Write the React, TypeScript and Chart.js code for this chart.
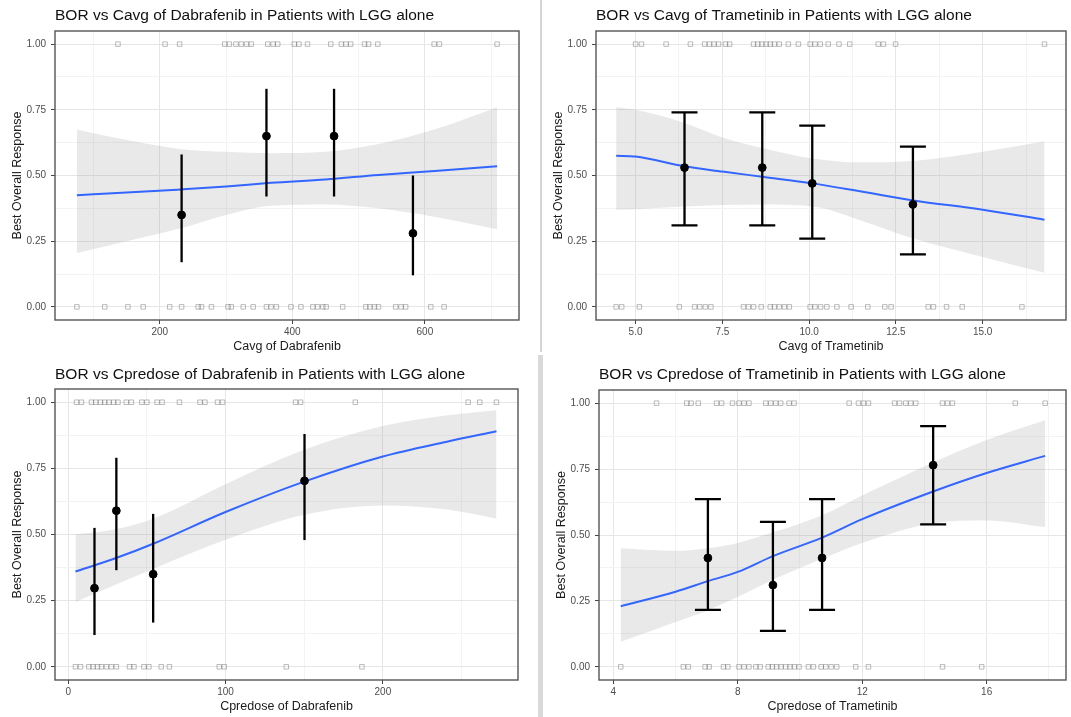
import React, { useEffect, useRef } from "react";
import { Chart, registerables } from "chart.js";

Chart.register(...registerables);

const FONT = "'Liberation Sans', Arial, Helvetica, sans-serif";

// ---------- Panel 1: BOR vs Cavg of Dabrafenib ----------
const cavgDabResponders = [137, 208, 230, 298, 305, 315, 323, 331, 338, 363, 371, 378, 403, 410, 423, 458, 474, 481, 488, 509, 515, 529, 614, 622, 709];
const cavgDabNonResponders = [75, 117, 152, 175, 215, 233, 258, 263, 278, 303, 308, 326, 341, 361, 368, 376, 398, 413, 431, 438, 446, 451, 476, 511, 517, 524, 530, 556, 564, 571, 609, 629];
const cavgDabBinX = [233, 361, 463, 582];
const cavgDabBinRate = [0.35, 0.65, 0.65, 0.28];
const cavgDabBinLow = [0.17, 0.42, 0.42, 0.12];
const cavgDabBinHigh = [0.58, 0.83, 0.83, 0.5];
const cavgDabFitX = [75, 150, 233, 300, 368, 450, 530, 620, 709];
const cavgDabFitY = [0.425, 0.435, 0.447, 0.458, 0.472, 0.485, 0.502, 0.518, 0.535];
const cavgDabFitLow = [0.205, 0.25, 0.3, 0.35, 0.385, 0.39, 0.375, 0.34, 0.295];
const cavgDabFitHigh = [0.675, 0.635, 0.6, 0.59, 0.585, 0.59, 0.62, 0.68, 0.76];
const cavgDabXTicks = [100, 200, 300, 400, 500, 600, 700];
const cavgDabXLabels = [200, 400, 600];

// ---------- Panel 2: BOR vs Cavg of Trametinib ----------
const cavgTraResponders = [5.0, 5.17, 5.88, 6.58, 6.99, 7.13, 7.26, 7.39, 7.59, 7.71, 8.4, 8.52, 8.64, 8.76, 8.88, 9.0, 9.14, 9.4, 9.69, 10.03, 10.17, 10.32, 10.55, 10.86, 11.17, 11.99, 12.14, 12.49, 16.78];
const cavgTraNonResponders = [4.44, 4.6, 5.11, 6.26, 6.7, 6.85, 7.01, 7.17, 8.11, 8.25, 8.4, 8.62, 8.88, 9.0, 9.14, 9.29, 9.43, 10.03, 10.17, 10.33, 10.51, 10.8, 11.21, 11.69, 12.18, 12.36, 13.43, 13.58, 13.96, 14.41, 16.13];
const cavgTraBinX = [6.41, 8.65, 10.09, 12.99];
const cavgTraBinRate = [0.53, 0.53, 0.47, 0.39];
const cavgTraBinLow = [0.31, 0.31, 0.26, 0.2];
const cavgTraBinHigh = [0.74, 0.74, 0.69, 0.61];
const cavgTraFitX = [4.44, 5.0, 6.41, 7.5, 8.65, 10.09, 11.47, 13.0, 15.0, 16.78];
const cavgTraFitY = [0.575, 0.572, 0.535, 0.515, 0.495, 0.47, 0.44, 0.405, 0.37, 0.332];
const cavgTraFitLow = [0.37, 0.372, 0.382, 0.388, 0.39, 0.383, 0.33, 0.26, 0.19, 0.13];
const cavgTraFitHigh = [0.76, 0.75, 0.7, 0.645, 0.605, 0.565, 0.55, 0.555, 0.59, 0.63];
const cavgTraXTicks = [5, 6.25, 7.5, 8.75, 10, 11.25, 12.5, 13.75, 15, 16.25];
const cavgTraXLabels = [5, 7.5, 10, 12.5, 15];

// ---------- Panel 3: BOR vs Cpredose of Dabrafenib ----------
const cpreDabResponders = [5.3, 8.4, 14.8, 17.5, 20.5, 23.2, 25.9, 28.9, 31.6, 36.9, 40.1, 46.8, 50.0, 56.5, 59.7, 70.7, 83.8, 86.9, 94.9, 98.1, 144.5, 147.7, 182.5, 254.2, 261.6, 272.2];
const cpreDabNonResponders = [4.6, 7.8, 13.1, 15.8, 18.6, 21.1, 24.3, 27.4, 30.6, 39.0, 41.8, 48.1, 51.3, 59.1, 64.3, 96.0, 99.2, 138.6, 186.7];
const cpreDabBinX = [16.7, 30.6, 54, 150.2];
const cpreDabBinRate = [0.297, 0.59, 0.35, 0.703];
const cpreDabBinLow = [0.12, 0.365, 0.167, 0.479];
const cpreDabBinHigh = [0.525, 0.79, 0.578, 0.88];
const cpreDabFitX = [4.6, 30, 54, 100, 150, 200, 240, 272.2];
const cpreDabFitY = [0.36, 0.41, 0.465, 0.585, 0.7, 0.795, 0.85, 0.89];
const cpreDabFitLow = [0.245, 0.31, 0.37, 0.48, 0.575, 0.61, 0.595, 0.56];
const cpreDabFitHigh = [0.5, 0.52, 0.56, 0.69, 0.82, 0.91, 0.95, 0.97];
const cpreDabXTicks = [0, 50, 100, 150, 200, 250];
const cpreDabXLabels = [0, 100, 200];

// ---------- Panel 4: BOR vs Cpredose of Trametinib ----------
const cpreTraResponders = [5.39, 6.36, 6.5, 6.73, 7.32, 7.48, 7.83, 8.04, 8.2, 8.36, 8.9, 9.06, 9.22, 9.38, 9.65, 9.81, 11.58, 11.88, 12.04, 12.2, 13.04, 13.2, 13.4, 13.56, 13.72, 14.58, 14.74, 14.9, 16.92, 17.88];
const cpreTraNonResponders = [4.24, 6.25, 6.41, 6.95, 7.08, 7.54, 7.68, 8.04, 8.2, 8.36, 8.58, 8.72, 8.98, 9.11, 9.25, 9.39, 9.54, 9.68, 9.82, 9.97, 10.27, 10.43, 10.68, 10.83, 11.0, 11.18, 11.79, 12.2, 14.58, 15.84];
const cpreTraBinX = [7.04, 9.13, 10.71, 14.28];
const cpreTraBinRate = [0.413, 0.31, 0.413, 0.765];
const cpreTraBinLow = [0.216, 0.136, 0.216, 0.54];
const cpreTraBinHigh = [0.636, 0.55, 0.636, 0.913];
const cpreTraFitX = [4.24, 6, 7.04, 8, 9.13, 10.71, 12, 14.28, 16, 17.88];
const cpreTraFitY = [0.23, 0.285, 0.325, 0.36, 0.42, 0.49, 0.56, 0.665, 0.735, 0.8];
const cpreTraFitLow = [0.095, 0.17, 0.215, 0.265, 0.33, 0.41, 0.47, 0.545, 0.555, 0.53];
const cpreTraFitHigh = [0.45, 0.44, 0.45, 0.47, 0.51, 0.575, 0.65, 0.775, 0.86, 0.935];
const cpreTraXTicks = [4, 6, 8, 10, 12, 14, 16, 18];
const cpreTraXLabels = [4, 8, 12, 16];

// ---------- Shared y axis ----------
const yTicks = [0, 0.125, 0.25, 0.375, 0.5, 0.625, 0.75, 0.875, 1];
const yLabels = [0, 0.25, 0.5, 0.75, 1];
const yTitle = "Best Overall Response";

type Spec = {
  title: string;
  xTitle: string;
  responders: number[];
  nonResponders: number[];
  binX: number[];
  binRate: number[];
  binLow: number[];
  binHigh: number[];
  fitX: number[];
  fitY: number[];
  fitLow: number[];
  fitHigh: number[];
  xMin: number;
  xMax: number;
  xTicks: number[];
  xLabels: number[];
  xDigits: number;
  capHalf: number;
  box: { left: number; top: number; width: number; height: number };
  padTop: number;
  padRight: number;
  xAxisH: number;
  yAxisW: number;
  titleY: number;
  xTitlePad: number;
  yTitlePad: number;
};

const specs: Spec[] = [
  {
    title: "BOR vs Cavg of Dabrafenib in Patients with LGG alone",
    xTitle: "Cavg of Dabrafenib",
    responders: cavgDabResponders,
    nonResponders: cavgDabNonResponders,
    binX: cavgDabBinX,
    binRate: cavgDabBinRate,
    binLow: cavgDabBinLow,
    binHigh: cavgDabBinHigh,
    fitX: cavgDabFitX,
    fitY: cavgDabFitY,
    fitLow: cavgDabFitLow,
    fitHigh: cavgDabFitHigh,
    xMin: 42,
    xMax: 742,
    xTicks: cavgDabXTicks,
    xLabels: cavgDabXLabels,
    xDigits: 0,
    capHalf: 0,
    box: { left: 0, top: 0, width: 537, height: 360 },
    padTop: 31,
    padRight: 18,
    xAxisH: 40,
    yAxisW: 55,
    titleY: 16,
    xTitlePad: 5.5,
    yTitlePad: 10.5,
  },
  {
    title: "BOR vs Cavg of Trametinib in Patients with LGG alone",
    xTitle: "Cavg of Trametinib",
    responders: cavgTraResponders,
    nonResponders: cavgTraNonResponders,
    binX: cavgTraBinX,
    binRate: cavgTraBinRate,
    binLow: cavgTraBinLow,
    binHigh: cavgTraBinHigh,
    fitX: cavgTraFitX,
    fitY: cavgTraFitY,
    fitLow: cavgTraFitLow,
    fitHigh: cavgTraFitHigh,
    xMin: 3.86,
    xMax: 17.4,
    xTicks: cavgTraXTicks,
    xLabels: cavgTraXLabels,
    xDigits: 1,
    capHalf: 13,
    box: { left: 541, top: 0, width: 530, height: 360 },
    padTop: 31,
    padRight: 5,
    xAxisH: 40,
    yAxisW: 55,
    titleY: 16,
    xTitlePad: 5.5,
    yTitlePad: 10.5,
  },
  {
    title: "BOR vs Cpredose of Dabrafenib in Patients with LGG alone",
    xTitle: "Cpredose of Dabrafenib",
    responders: cpreDabResponders,
    nonResponders: cpreDabNonResponders,
    binX: cpreDabBinX,
    binRate: cpreDabBinRate,
    binLow: cpreDabBinLow,
    binHigh: cpreDabBinHigh,
    fitX: cpreDabFitX,
    fitY: cpreDabFitY,
    fitLow: cpreDabFitLow,
    fitHigh: cpreDabFitHigh,
    xMin: -8.4,
    xMax: 285.9,
    xTicks: cpreDabXTicks,
    xLabels: cpreDabXLabels,
    xDigits: 0,
    capHalf: 0,
    box: { left: 0, top: 358, width: 537, height: 359 },
    padTop: 31,
    padRight: 19,
    xAxisH: 37,
    yAxisW: 55,
    titleY: 17,
    xTitlePad: 2.5,
    yTitlePad: 10.5,
  },
  {
    title: "BOR vs Cpredose of Trametinib in Patients with LGG alone",
    xTitle: "Cpredose of Trametinib",
    responders: cpreTraResponders,
    nonResponders: cpreTraNonResponders,
    binX: cpreTraBinX,
    binRate: cpreTraBinRate,
    binLow: cpreTraBinLow,
    binHigh: cpreTraBinHigh,
    fitX: cpreTraFitX,
    fitY: cpreTraFitY,
    fitLow: cpreTraFitLow,
    fitHigh: cpreTraFitHigh,
    xMin: 3.54,
    xMax: 18.55,
    xTicks: cpreTraXTicks,
    xLabels: cpreTraXLabels,
    xDigits: 0,
    capHalf: 13,
    box: { left: 544, top: 358, width: 527, height: 359 },
    padTop: 32,
    padRight: 5,
    xAxisH: 37,
    yAxisW: 55,
    titleY: 17,
    xTitlePad: 2.5,
    yTitlePad: 10.5,
  },
];

const near = (list: number[], v: number) => list.some((m) => Math.abs(m - v) < 1e-6);

function buildConfig(s: Spec): any {
  const pts = (xs: number[], ys: number[]) => xs.map((x, i) => ({ x, y: ys[i] }));
  const squareStyle = {
    pointStyle: "rect",
    pointRadius: 3.2,
    pointBorderWidth: 1,
    pointBorderColor: "rgba(90,90,90,0.4)",
    pointBackgroundColor: "rgba(0,0,0,0)",
    pointHoverRadius: 3.2,
  };
  const plugin = {
    id: "panelDecor",
    beforeDatasetDraw(chart: any, args: any) {
      if (args.index !== 0) return;
      const { ctx } = chart;
      const x = chart.scales.x;
      const y = chart.scales.y;
      ctx.save();
      ctx.strokeStyle = "#000";
      ctx.lineWidth = 2.3;
      s.binX.forEach((bx, i) => {
        const px = x.getPixelForValue(bx);
        const pl = y.getPixelForValue(s.binLow[i]);
        const ph = y.getPixelForValue(s.binHigh[i]);
        ctx.beginPath();
        ctx.moveTo(px, pl);
        ctx.lineTo(px, ph);
        if (s.capHalf > 0) {
          ctx.moveTo(px - s.capHalf, pl);
          ctx.lineTo(px + s.capHalf, pl);
          ctx.moveTo(px - s.capHalf, ph);
          ctx.lineTo(px + s.capHalf, ph);
        }
        ctx.stroke();
      });
      ctx.restore();
    },
    afterDraw(chart: any) {
      const { ctx, chartArea: a } = chart;
      ctx.save();
      ctx.strokeStyle = "#555";
      ctx.lineWidth = 1.4;
      ctx.strokeRect(a.left, a.top, a.right - a.left, a.bottom - a.top);
      ctx.font = `15.5px ${FONT}`;
      ctx.fillStyle = "#111";
      ctx.textBaseline = "middle";
      ctx.textAlign = "left";
      ctx.fillText(s.title, a.left, s.titleY);
      ctx.restore();
    },
  };

  const gridFor = (majors: number[]) => ({
    color: (c: any) => (c.tick && near(majors, c.tick.value) ? "#e6e6e6" : "#f3f3f3"),
    tickColor: (c: any) => (c.tick && near(majors, c.tick.value) ? "#444" : "rgba(0,0,0,0)"),
    lineWidth: 1,
    tickLength: 4,
    tickWidth: 1,
    drawTicks: true,
  });

  return {
    type: "scatter",
    data: {
      datasets: [
        {
          label: "bins",
          data: pts(s.binX, s.binRate),
          pointStyle: "circle",
          pointRadius: 3.9,
          pointBackgroundColor: "#000",
          pointBorderColor: "#000",
          order: 0,
        },
        {
          type: "line",
          label: "fit",
          data: pts(s.fitX, s.fitY),
          borderColor: "#3366FF",
          borderWidth: 2,
          pointRadius: 0,
          fill: false,
          cubicInterpolationMode: "monotone",
          order: 1,
        },
        {
          type: "line",
          label: "ciLow",
          data: pts(s.fitX, s.fitLow),
          borderColor: "rgba(0,0,0,0)",
          borderWidth: 0,
          pointRadius: 0,
          fill: false,
          cubicInterpolationMode: "monotone",
          order: 3,
        },
        {
          type: "line",
          label: "ciHigh",
          data: pts(s.fitX, s.fitHigh),
          borderColor: "rgba(0,0,0,0)",
          borderWidth: 0,
          pointRadius: 0,
          fill: "-1",
          backgroundColor: "rgba(153,153,153,0.22)",
          cubicInterpolationMode: "monotone",
          order: 2,
        },
        {
          label: "responders",
          data: s.responders.map((x) => ({ x, y: 1 })),
          ...squareStyle,
          order: 4,
        },
        {
          label: "nonResponders",
          data: s.nonResponders.map((x) => ({ x, y: 0 })),
          ...squareStyle,
          order: 5,
        },
      ],
    },
    options: {
      responsive: false,
      animation: false,
      events: [],
      layout: { padding: { top: s.padTop, right: s.padRight, left: 0, bottom: 0 } },
      plugins: {
        legend: { display: false },
        tooltip: { enabled: false },
        title: { display: false },
      },
      scales: {
        x: {
          type: "linear",
          min: s.xMin,
          max: s.xMax,
          afterBuildTicks: (sc: any) => {
            sc.ticks = s.xTicks.map((v) => ({ value: v }));
          },
          afterFit: (sc: any) => {
            sc.height = s.xAxisH;
          },
          ticks: {
            autoSkip: false,
            maxRotation: 0,
            padding: 2,
            color: "#4d4d4d",
            font: { family: FONT, size: 10 },
            callback: (v: any) => (near(s.xLabels, Number(v)) ? Number(v).toFixed(s.xDigits) : ""),
          },
          grid: gridFor(s.xLabels),
          border: { display: false },
          title: {
            display: true,
            text: s.xTitle,
            color: "#1a1a1a",
            font: { family: FONT, size: 12.5 },
            padding: { top: 0, bottom: s.xTitlePad },
          },
        },
        y: {
          type: "linear",
          min: -0.05,
          max: 1.05,
          afterBuildTicks: (sc: any) => {
            sc.ticks = yTicks.map((v) => ({ value: v }));
          },
          afterFit: (sc: any) => {
            sc.width = s.yAxisW;
          },
          ticks: {
            autoSkip: false,
            padding: 5,
            color: "#4d4d4d",
            font: { family: FONT, size: 10 },
            callback: (v: any) => (near(yLabels, Number(v)) ? Number(v).toFixed(2) : ""),
          },
          grid: gridFor(yLabels),
          border: { display: false },
          title: {
            display: true,
            text: yTitle,
            color: "#1a1a1a",
            font: { family: FONT, size: 12.5 },
            padding: { top: s.yTitlePad, bottom: 0 },
          },
        },
      },
    },
    plugins: [plugin],
  };
}

function Panel({ spec }: { spec: Spec }) {
  const ref = useRef<HTMLCanvasElement | null>(null);
  useEffect(() => {
    if (!ref.current) return;
    const chart = new Chart(ref.current, buildConfig(spec));
    return () => chart.destroy();
  }, [spec]);
  const b = spec.box;
  return (
    <canvas
      ref={ref}
      width={b.width}
      height={b.height}
      style={{ position: "absolute", left: b.left, top: b.top, width: b.width, height: b.height }}
    />
  );
}

export default function App() {
  return (
    <div
      style={{
        position: "fixed",
        left: 0,
        top: 0,
        width: 1071,
        height: 717,
        background: "#fff",
        overflow: "hidden",
      }}
    >
      <div style={{ position: "absolute", left: 540, top: 0, width: 2, height: 352, background: "#d4d4d4" }} />
      <div style={{ position: "absolute", left: 538, top: 355, width: 5, height: 362, background: "#d9d9d9" }} />
      {specs.map((s, i) => (
        <Panel key={i} spec={s} />
      ))}
    </div>
  );
}
